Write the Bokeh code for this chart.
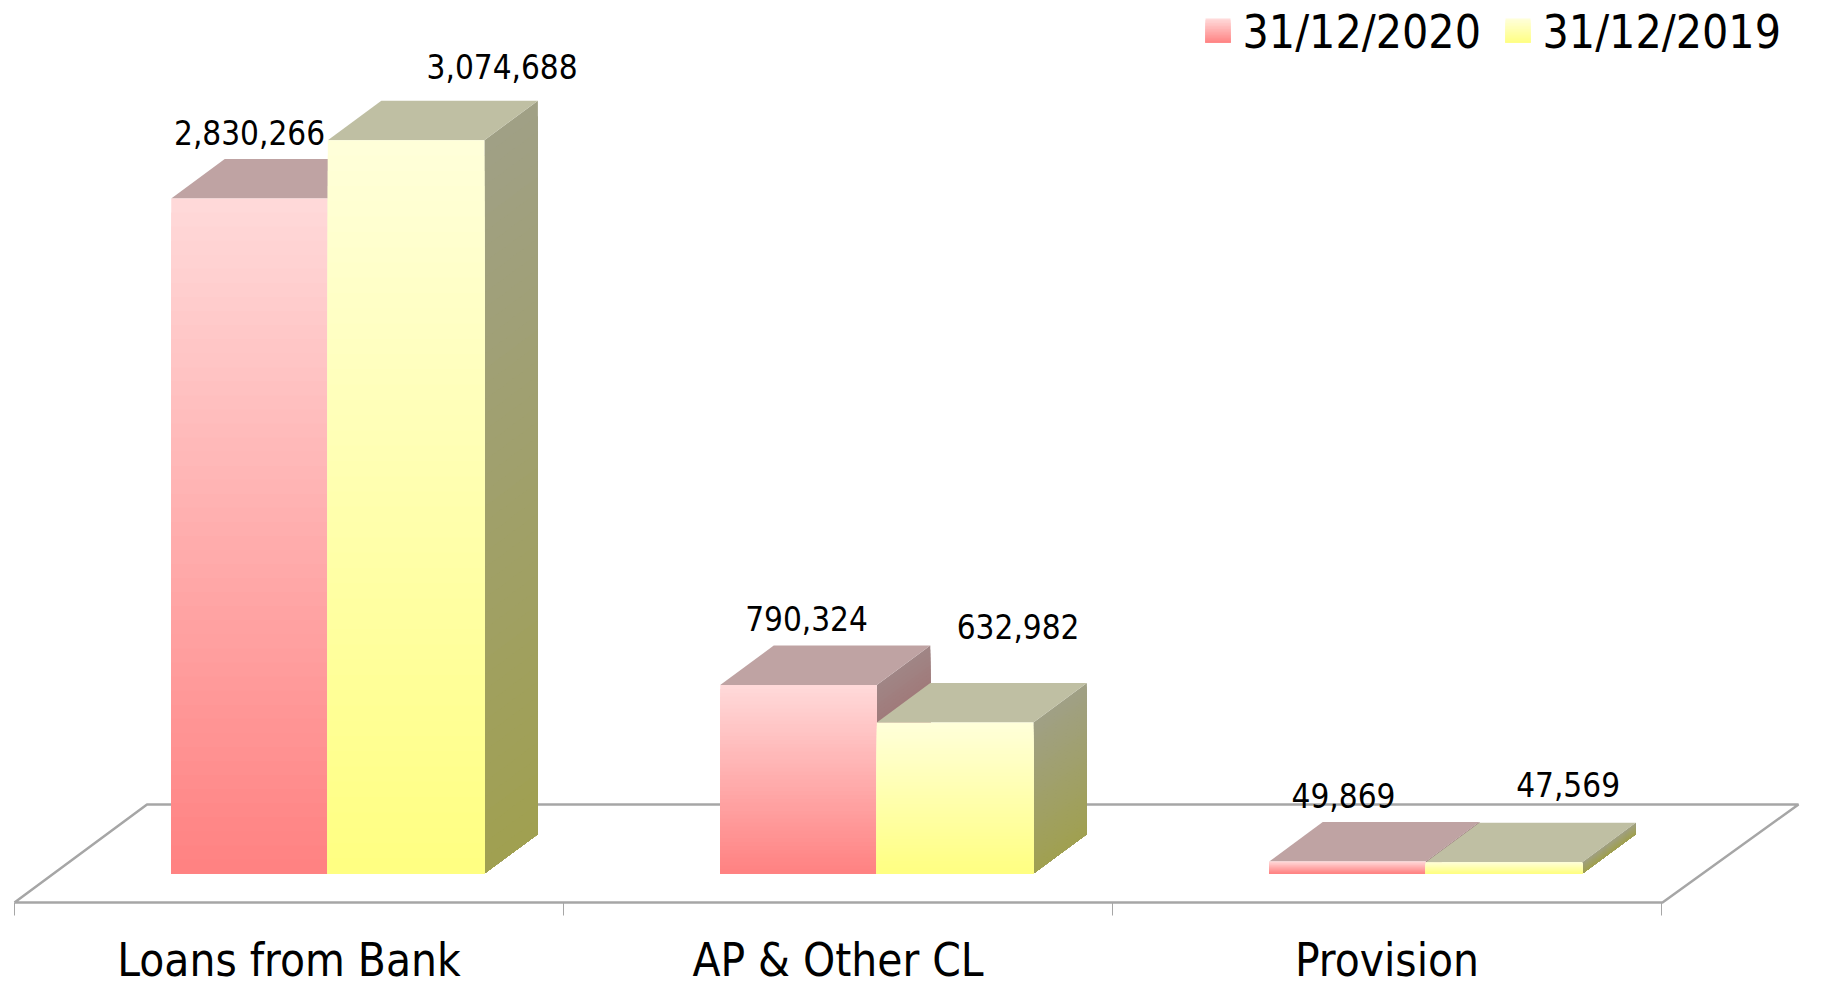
from bokeh.plotting import figure
from bokeh.embed import file_html
from bokeh.resources import INLINE
from bokeh.core.properties import value
from bokeh.models import Range1d

categories = ["Loans from Bank", "AP & Other CL", "Provision"]
series_names = ["31/12/2020", "31/12/2019"]
values_2020 = [2830266, 790324, 49869]
values_2019 = [3074688, 632982, 47569]

# styles
FONT = value("DejaVu Sans Condensed")
RED = dict(front_top=(255, 217, 217), front_bot=(255, 128, 128),
           side_top=(160, 133, 133), side_bot=(160, 80, 80), top="#BFA3A3")
YEL = dict(front_top=(255, 255, 217), front_bot=(255, 255, 128),
           side_top=(160, 160, 133), side_bot=(160, 160, 80), top="#BFBFA3")

W, H = 1822, 983
GROUP_PX = 549.0       # pixels per category
X0_PX = 14.0           # page x of the first category boundary
Y0_PX = 873.0          # page y of the zero line
PX_PER_VAL = 2.385e-4  # pixels per value unit


def xd(px):
    return (px - X0_PX) / GROUP_PX


def yd(py):
    return (Y0_PX - py) / PX_PER_VAL


p = figure(width=W, height=H, output_backend="svg", toolbar_location=None,
           x_range=Range1d(xd(0), xd(W)),
           y_range=Range1d(yd(H), yd(0)),
           min_border=0, outline_line_color=None,
           background_fill_color="white", border_fill_color="white")
p.axis.visible = False
p.grid.visible = False

GAP = 0.2855
BAR = 0.2852
DX = 53.5 / GROUP_PX
DY = 39.5 / PX_PER_VAL
N = 48

# floor
floor_y = yd(902)
floor_back = yd(804)
p.line([xd(14), xd(146.5), xd(1798), xd(1662), xd(14)],
       [floor_y, floor_back, floor_back, floor_y, floor_y],
       line_color="#A6A6A6", line_width=2.5)
tick_bottom = yd(915)
p.segment(x0=[0, 1, 2, 3], x1=[0, 1, 2, 3], y0=[floor_y] * 4, y1=[tick_bottom] * 4,
          line_color="#A6A6A6", line_width=1)


def mix(a, b, t):
    return "#%02X%02X%02X" % tuple(round(a[k] + (b[k] - a[k]) * t) for k in range(3))


def bar3d(left, v, st):
    right = left + BAR
    # side face, painted top to bottom, each band reaches the bottom
    xs, ys, cs = [], [], []
    for k in range(N):
        t = k / N
        yb = v * (1 - t)
        xs.append([right, right + DX, right + DX, right])
        ys.append([yb, yb + DY, DY, 0])
        cs.append(mix(st["side_top"], st["side_bot"], t))
    p.patches(xs, ys, fill_color=cs, line_color=None)
    # top face
    p.patch([left, right, right + DX, left + DX], [v, v, v + DY, v + DY],
            fill_color=st["top"], line_color=None)
    # front face
    p.quad(left=[left] * N, right=[right] * N, bottom=[0] * N,
           top=[v * (1 - k / N) for k in range(N)],
           fill_color=[mix(st["front_top"], st["front_bot"], k / N) for k in range(N)],
           line_color=None)


for i, v in enumerate(values_2020):
    bar3d(i + GAP, v, RED)
for i, v in enumerate(values_2019):
    bar3d(i + GAP + BAR, v, YEL)

# value labels: anchored at the bar's front-top centre, nudged as in the reference
lab_x = [i + GAP + BAR / 2 for i in range(3)] + [i + GAP + BAR * 1.5 for i in range(3)]
lab_v = values_2020 + values_2019
lab_t = [f"{v:,}" for v in lab_v]
nudge_x = [0, 8, -4, 96, 63, 64]
nudge_y = [66, 67, 66, 74, 96, 78]
p.text(x=lab_x, y=lab_v, text=lab_t, x_offset=nudge_x, y_offset=[-n for n in nudge_y],
       text_font=FONT, text_font_size="33px", text_align="center",
       text_baseline="alphabetic", text_color="#000000")

# category labels
p.text(x=[i + 0.5 for i in range(3)], y=[yd(960)] * 3, text=categories,
       text_font=FONT, text_font_size="45.5px", text_align="center",
       text_baseline="alphabetic", text_color="#000000")

# legend
for name, st, sx, tx in ((series_names[0], RED, 1205, 1242), (series_names[1], YEL, 1505, 1542)):
    M = 16
    y_top, y_bot = 18, 42
    p.quad(left=[xd(sx)] * M, right=[xd(sx + 25)] * M, bottom=[yd(y_bot)] * M,
           top=[yd(y_top + (y_bot - y_top) * k / M) for k in range(M)],
           fill_color=[mix(st["front_top"], st["front_bot"], k / M) for k in range(M)],
           line_color=None)
    p.text(x=[xd(tx)], y=[yd(31)], text=[name], text_font=FONT, text_font_size="46px",
           text_align="left", text_baseline="alphabetic", text_color="#000000")

open("out.html", "w").write(file_html(p, INLINE))
